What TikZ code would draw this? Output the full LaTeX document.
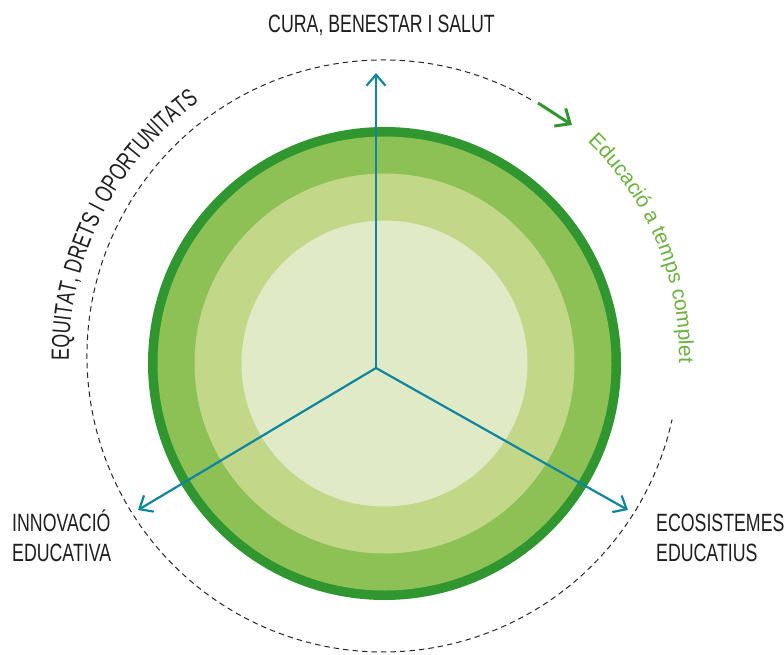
\documentclass[tikz,border=0pt]{standalone}
\usepackage{fontspec}
\setmainfont{Liberation Sans}
\newfontfamily\condfont{Liberation Sans}[FakeStretch=0.71]
\usetikzlibrary{arrows.meta,decorations.text}
\definecolor{ringdark}{HTML}{30962F}
\definecolor{ringmid}{HTML}{8DC155}
\definecolor{ringlight}{HTML}{C2D888}
\definecolor{ringcore}{HTML}{E0EAC6}
\definecolor{axisteal}{HTML}{0E869F}
\definecolor{txtgreen}{HTML}{6AB23E}
\definecolor{txtblack}{HTML}{1E1E1E}
\tikzset{
  lbl/.style={font=\condfont\fontsize{25}{30}\selectfont, text=txtblack, inner sep=0pt},
  axisline/.style={draw=axisteal, line width=2.2pt, -{Straight Barb[length=11pt,width=19pt]}},
  cyclearrow/.style={draw=ringdark, line width=3pt, -{Straight Barb[length=12pt,width=21pt]}},
  dashring/.style={draw=black!85, line width=1pt, dash pattern=on 5.5pt off 4pt}
}
\begin{document}
\begin{tikzpicture}[x=1pt,y=1pt]
\useasboundingbox (0,0) rectangle (784,654);
% rings
\coordinate (c) at (384.5,290.5);
\fill[ringdark] (c) circle[radius=236.5];
\fill[ringmid] (c) circle[radius=227];
\fill[ringlight] (c) circle[radius=190];
\fill[ringcore] (c) circle[radius=143];
% dashed circle
\coordinate (d) at (383,298);
\draw[dashring] (d) ++(60:296) arc[start angle=60, end angle=347.6, radius=296];
% green cycle arrow
\coordinate (ga) at (538,551);
\coordinate (gb) at (572,529);
\draw[cyclearrow] (ga) -- (gb);
% axes
\coordinate (o) at (376,286);
\coordinate (atop) at (376,581);
\coordinate (aleft) at (138,144);
\coordinate (aright) at (628,144);
\draw[axisline] (o) -- (atop);
\draw[axisline] (o) -- (aleft);
\draw[axisline] (o) -- (aright);
% curved texts
\path[decorate, decoration={text along path, text align=center,
  text={|\condfont\fontsize{25}{30}\selectfont\color{txtblack}|EQUITAT, DRETS I OPORTUNITATS}}]
  (d) ++(188.3:314) arc[start angle=188.3, end angle=118.3, radius=314];
\path[decorate, decoration={text along path, text align=center,
  text={|\fontsize{21}{25}\selectfont\color{txtgreen}|Educació a temps complet}}]
  (d) ++(52.5:296) arc[start angle=52.5, end angle=-7.5, radius=296];
% labels
\node[lbl, anchor=base] (cura) at (381.5,621) {CURA, BENESTAR I SALUT};
\node[lbl, anchor=base west, align=left] (inno) at (12,93) {INNOVACIÓ\\EDUCATIVA};
\node[lbl, anchor=base west, align=left] (eco) at (656,93) {ECOSISTEMES\\EDUCATIUS};
\end{tikzpicture}
\end{document}
